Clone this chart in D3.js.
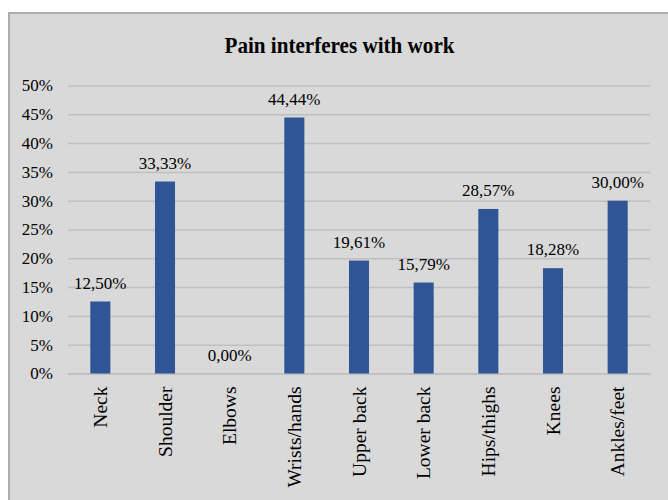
<!DOCTYPE html>
<html>
<head>
<meta charset="utf-8">
<script src="https://cdn.jsdelivr.net/npm/d3@7"></script>
<style>
  html, body { margin: 0; padding: 0; background: #ffffff; }
  svg { display: block; }
  svg text { font-family: "Liberation Serif", "Times New Roman", serif !important; fill: #000; }
</style>
</head>
<body>
<svg id="chart" width="668" height="500"></svg>
<script>
const categories = ["Neck", "Shoulder", "Elbows", "Wrists/hands", "Upper back", "Lower back", "Hips/thighs", "Knees", "Ankles/feet"];
const values = [12.50, 33.33, 0.00, 44.44, 19.61, 15.79, 28.57, 18.28, 30.00];
const yTicks = [0, 5, 10, 15, 20, 25, 30, 35, 40, 45, 50];
const title = "Pain interferes with work";

const SERIF = "'Liberation Serif', 'Times New Roman', serif";
const svg = d3.select("#chart");
const W = 668, H = 500;

// chart background area with left/top border
svg.append("rect").attr("x", 9).attr("y", 13).attr("width", W - 9).attr("height", H - 13)
  .attr("fill", "#d9d9d9");
svg.append("line").attr("x1", 9).attr("x2", 9).attr("y1", 12).attr("y2", H)
  .attr("stroke", "#adadad").attr("stroke-width", 2);
svg.append("line").attr("x1", 8).attr("x2", W).attr("y1", 13).attr("y2", 13)
  .attr("stroke", "#adadad").attr("stroke-width", 2);

const plot = { left: 68, right: 650, top: 85.5, bottom: 373.5 };

const x = d3.scaleBand().domain(categories).range([plot.left, plot.right])
  .paddingInner(0.69).paddingOuter(0.345);
const y = d3.scaleLinear().domain([0, 50]).range([plot.bottom, plot.top]);

// gridlines + y labels
const yAxis = d3.axisLeft(y).tickValues(yTicks).tickFormat(d => d + "%")
  .tickSize(-(plot.right - plot.left)).tickPadding(15);
const gy = svg.append("g").attr("transform", `translate(${plot.left},0)`).call(yAxis)
  .attr("font-family", null).attr("font-size", null);
gy.select(".domain").remove();
gy.selectAll(".tick line").attr("stroke", "#bfbfbf").attr("stroke-width", 1.5);
gy.selectAll(".tick text").style("font-family", SERIF).style("font-size", "17px")
  .attr("fill", "#000");

// x axis line + labels
const xAxis = d3.axisBottom(x).tickSize(0).tickPadding(0);
const gx = svg.append("g").attr("transform", `translate(0,${plot.bottom})`).call(xAxis)
  .attr("font-family", null).attr("font-size", null);
gx.select(".domain").attr("stroke", "#bfbfbf").attr("stroke-width", 1.5);
gx.selectAll(".tick text")
  .style("font-family", SERIF)
  .style("font-size", "19.5px")
  .attr("fill", "#000")
  .attr("text-anchor", "end")
  .attr("dy", "0.35em")
  .attr("transform", "translate(0,13) rotate(-90)");

// bars
svg.append("g").selectAll("rect").data(values).join("rect")
  .attr("x", (d, i) => x(categories[i]))
  .attr("y", d => y(d))
  .attr("width", x.bandwidth())
  .attr("height", d => y(0) - y(d))
  .attr("fill", "#2f5597");

// data labels
const fmt = d3.format(".2f");
svg.append("g").selectAll("text").data(values).join("text")
  .attr("x", (d, i) => x(categories[i]) + x.bandwidth() / 2)
  .attr("y", d => y(d) - 13)
  .attr("text-anchor", "middle")
  .style("font-family", SERIF)
  .style("font-size", "17px")
  .text(d => fmt(d).replace(".", ",") + "%");

// title
svg.append("text")
  .attr("x", 224.5).attr("y", 53.3)
  .style("font-family", SERIF)
  .style("font-size", "24px").style("font-weight", "bold")
  .attr("textLength", 230).attr("lengthAdjust", "spacingAndGlyphs")
  .text(title);
</script>
</body>
</html>
